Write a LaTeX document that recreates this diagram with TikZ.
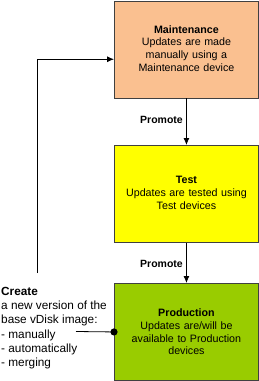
\documentclass[tikz,border=0pt]{standalone}
\usepackage{fontspec}
\setmainfont{Liberation Sans}
\usetikzlibrary{arrows.meta}
\definecolor{peach}{HTML}{FAC090}
\definecolor{yel}{HTML}{FFFF00}
\definecolor{grn}{HTML}{99CC00}
\begin{document}
\begin{tikzpicture}[x=1pt,y=-1pt,
  box/.style={draw=black!75, line width=0.9pt, minimum width=144pt, minimum height=97pt,
    inner sep=0pt, align=center, anchor=north west, text width=140pt,
    font=\fontsize{10.7}{12.8}\selectfont},
  lbl/.style={font=\bfseries\fontsize{10.5}{12}\selectfont, inner sep=0pt, anchor=east},
  conn/.style={line width=0.8pt, -{Latex[length=7pt,width=6pt]}}]
\useasboundingbox (0,0) rectangle (259,381);
\node[box, fill=peach] (maint) at (114,0.5) {\textbf{Maintenance}\\Updates are made\\manually using a\\Maintenance device\vspace{2pt}};
\node[box, fill=yel] (test) at (114,145) {\textbf{Test}\\Updates are tested using\\Test devices\vspace{2pt}};
\node[box, fill=grn] (prod) at (114,283) {\textbf{Production}\\Updates are/will be\\available to Production\\devices};
\draw[conn] (maint.south) -- (test.north);
\draw[conn] (test.south) -- (prod.north);
\node[lbl] (p1) at (183,120) {Promote};
\node[lbl] (p2) at (183,264) {Promote};
\node[align=left, anchor=north west, inner sep=0pt, font=\fontsize{11.8}{14.2}\selectfont] (create) at (1,287)
  {\textbf{Create}\\a new version of the\\base vDisk image:\\- manually\\- automatically\\- merging};
\coordinate (c1) at (37,273);
\draw[conn] (c1) |- ([yshift=-9.8pt]maint.west);
\coordinate (c2) at (76,331.5);
\draw[line width=0.8pt] (c2) -- (prod.west);
\fill (prod.west) circle (3.6pt);
\end{tikzpicture}
\end{document}
